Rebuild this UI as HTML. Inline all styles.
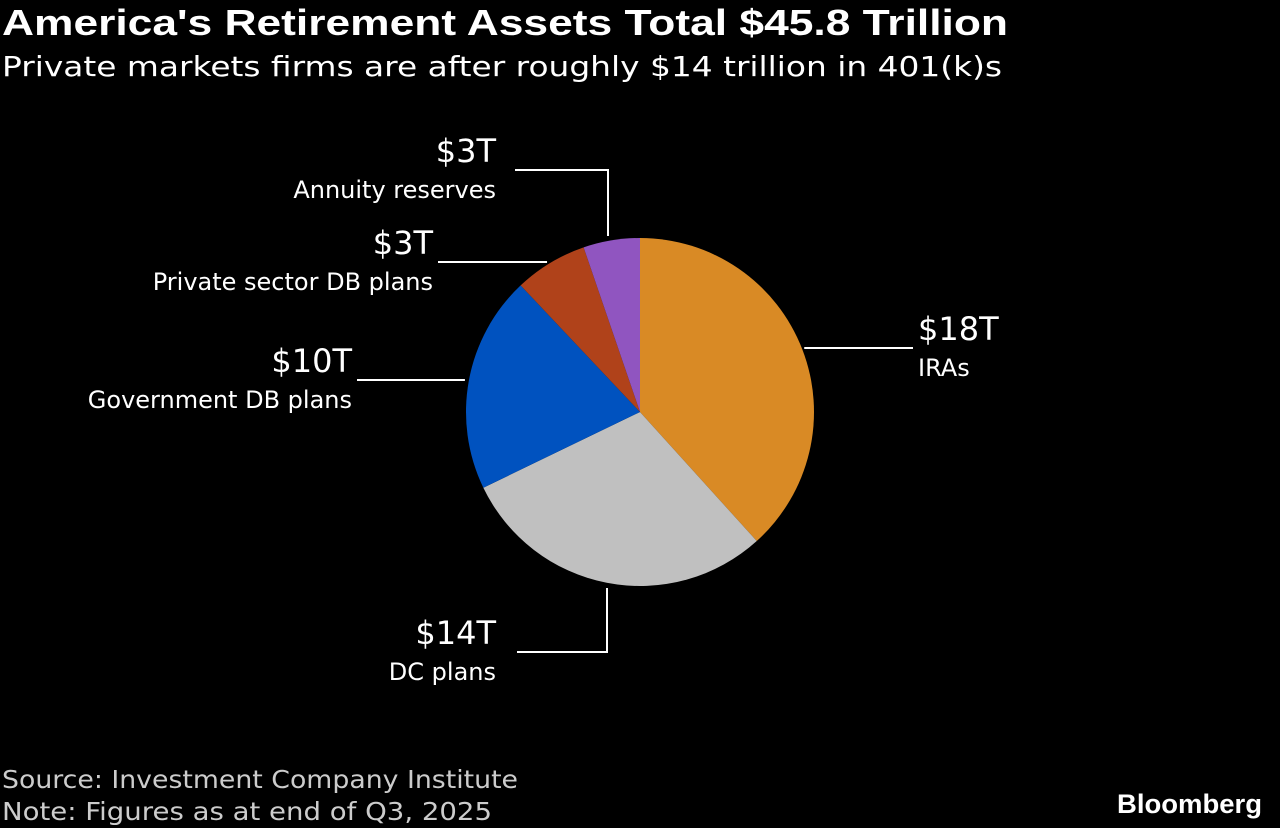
<!DOCTYPE html>
<html><head><meta charset="utf-8"><style>
html,body{margin:0;padding:0;background:#000;}
svg{display:block;font-family:"Liberation Sans",sans-serif;}
</style></head><body>
<svg id="c" width="1280" height="828" viewBox="0 0 1280 828">
<text x="2" y="35" fill="#fff" font-size="36" font-weight="bold" textLength="1006" lengthAdjust="spacingAndGlyphs">America's Retirement Assets Total $45.8 Trillion</text>
<text x="2" y="76" fill="#fff" font-size="28" font-family="DejaVu Sans, sans-serif" textLength="1000" lengthAdjust="spacingAndGlyphs">Private markets firms are after roughly $14 trillion in 401(k)s</text>
<g id="pie"></g>
<g id="labels"></g>
<text x="2" y="788" fill="#ccc" font-size="25" font-family="DejaVu Sans, sans-serif" textLength="516" lengthAdjust="spacingAndGlyphs">Source: Investment Company Institute</text>
<text x="2" y="820" fill="#ccc" font-size="25" font-family="DejaVu Sans, sans-serif" textLength="490" lengthAdjust="spacingAndGlyphs">Note: Figures as at end of Q3, 2025</text>
<text x="1262" y="813" fill="#fff" font-size="27" font-weight="bold" text-anchor="end" textLength="145" lengthAdjust="spacingAndGlyphs">Bloomberg</text>
</svg>
<script>
const categories=["IRAs","DC plans","Government DB plans","Private sector DB plans","Annuity reserves"];
const values=[17.5,13.5,9.2,3.1,2.4];
const valueLabels=["$18T","$14T","$10T","$3T","$3T"];
const colors=["#d98a25","#c0c0c0","#0052bf","#b0421a","#9055c0"];
const cx=640,cy=412,r=174;
const ns="http://www.w3.org/2000/svg";
const total=values.reduce((a,b)=>a+b,0);
function pt(a,rr){return [cx+rr*Math.sin(a),cy-rr*Math.cos(a)];}
const pie=document.getElementById('pie');
let a0=0;const mids=[];
values.forEach((v,i)=>{
  const a1=a0+v/total*2*Math.PI;
  const p0=pt(a0,r),p1=pt(a1,r);
  const large=(a1-a0)>Math.PI?1:0;
  const p=document.createElementNS(ns,'path');
  p.setAttribute('d',`M${cx},${cy}L${p0[0]},${p0[1]}A${r},${r} 0 ${large} 1 ${p1[0]},${p1[1]}Z`);
  p.setAttribute('fill',colors[i]);
  
  
  pie.appendChild(p);
  mids.push((a0+a1)/2);a0=a1;
});
const L=document.getElementById('labels');
function line(pts){const l=document.createElementNS(ns,'polyline');l.setAttribute('points',pts.map(p=>p.join(',')).join(' '));l.setAttribute('fill','none');l.setAttribute('stroke','#fff');l.setAttribute('stroke-width','2');


L.appendChild(l);}
function txt(x,y,s,size,anchor,name){const t=document.createElementNS(ns,'text');t.setAttribute('x',x);t.setAttribute('y',y);t.setAttribute('fill','#fff');t.setAttribute('font-size',size);t.setAttribute('text-anchor',anchor);t.setAttribute('font-family','DejaVu Sans, sans-serif');t.textContent=s;


L.appendChild(t);}
const lay=[
 {side:'r',y:348},
 {side:'b'},
 {side:'l',y:380,x0:357},
 {side:'l',y:262,x0:438},
 {side:'t'}
];
mids.forEach((m,i)=>{
  const e=pt(m,r+2);const o=lay[i];
  if(o.side==='r'){line([[e[0],o.y],[913,o.y]]);txt(918,o.y-8,valueLabels[i],32,'start','value-label');txt(918,o.y+28,categories[i],24,'start','category-label');}
  else if(o.side==='l'){line([[e[0]-2,o.y],[o.x0,o.y]]);txt(o.x0-5,o.y-8,valueLabels[i],32,'end','value-label');txt(o.x0-5,o.y+28,categories[i],24,'end','category-label');}
  else if(o.side==='b'){const x=607;line([[x,588],[x,652],[517,652]]);txt(496,644,valueLabels[i],32,'end','value-label');txt(496,680,categories[i],24,'end','category-label');}
  else {const x=608;line([[x,236],[x,170],[515,170]]);txt(496,162,valueLabels[i],32,'end','value-label');txt(496,198,categories[i],24,'end','category-label');}
});
</script>
</body></html>
